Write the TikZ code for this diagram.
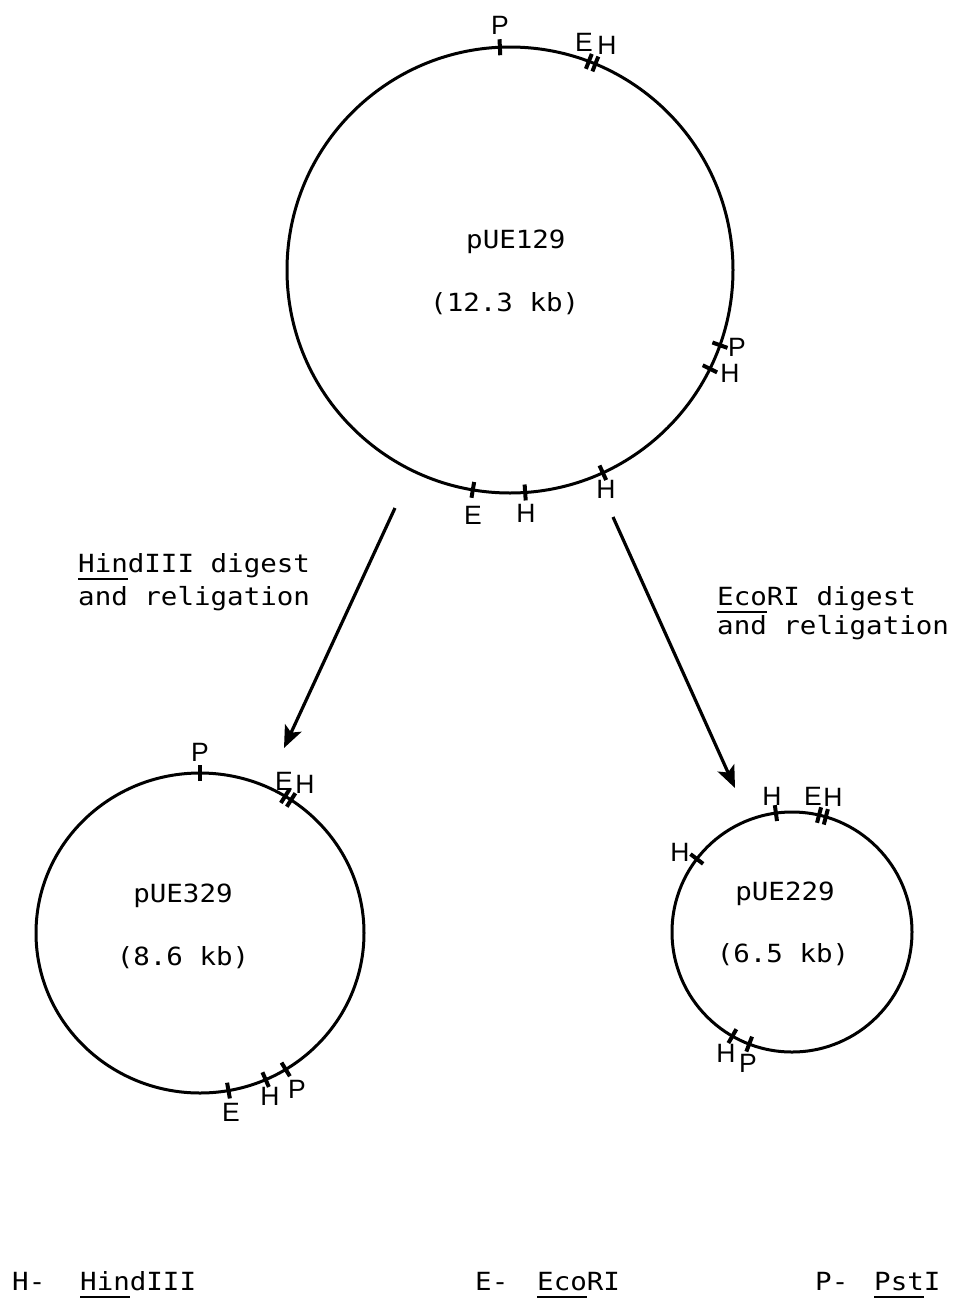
\documentclass[tikz,border=0pt]{standalone}
\usepackage{fontspec}
\usetikzlibrary{arrows.meta,shapes.geometric}
\newfontfamily\typefont[FakeStretch=1.1]{DejaVu Sans Mono}
\newfontfamily\handfont{Liberation Sans}
\newcommand\typesize{\fontsize{25}{30}\selectfont}
\newcommand\handsize{\fontsize{26.5}{30}\selectfont}
% underline for the genus part of an enzyme name
\newsavebox\ulbox
\newcommand\enzul[1]{\sbox\ulbox{#1}\rlap{\rule[-8pt]{\wd\ulbox}{2.2pt}}#1}
% single and double cut marks on a plasmid ring
% #1 centre, #2 angle, #3 x radius, #4 y radius
\newcommand\cutmark[4]{%
  \path (#1) ++(#2:#3 and #4) coordinate (cutpt);
  \draw[sitecut] (cutpt) ++(#2:-8) -- ++(#2:16);}
\newcommand\doublecut[4]{%
  \path (#1) ++(#2:#3 and #4) coordinate (cutpt);
  \draw[sitecut] ([shift={(#2+90:3.5)}]cutpt) ++(#2:-8) -- ++(#2:16);
  \draw[sitecut] ([shift={(#2-90:3.5)}]cutpt) ++(#2:-8) -- ++(#2:16);}

\begin{document}
\begin{tikzpicture}[x=1pt,y=1pt,
  plasmid/.style={draw, line width=3pt, inner sep=0pt, outer sep=0pt},
  sitecut/.style={line width=4pt},
  site/.style={font=\handfont\handsize, inner sep=0pt},
  mono/.style={font=\typefont\typesize, inner sep=0pt, anchor=base},
  monoleft/.style={mono, anchor=base west},
  digest/.style={line width=3.2pt, -{Stealth[length=22pt,width=18pt,inset=5pt]}}]
\useasboundingbox (0,0) rectangle (956,-1302);

% plasmid rings
\node[plasmid, circle, minimum size=446pt] (p129) at (510,-270) {};
\node[plasmid, ellipse, minimum width=328pt, minimum height=320pt] (p329) at (200,-933) {};
\node[plasmid, circle, minimum size=240pt] (p229) at (792,-932) {};

% names and sizes
\node[monoleft] (n129) at (466,-248) {pUE129};
\node[monoleft] (s129) at (430,-311) {(12.3 kb)};
\node[mono] (n329) at (183,-902) {pUE329};
\node[mono] (s329) at (183,-965) {(8.6 kb)};
\node[mono] (n229) at (785,-900) {pUE229};
\node[mono] (s229) at (783,-962) {(6.5 kb)};

% pUE129 sites
\cutmark{p129.center}{92.6}{223}{223}
\doublecut{p129.center}{68.4}{223}{223}
\cutmark{p129.center}{-19.7}{223}{223}
\cutmark{p129.center}{-26.3}{223}{223}
\cutmark{p129.center}{-65.4}{223}{223}
\cutmark{p129.center}{-86.1}{223}{223}
\cutmark{p129.center}{-99.6}{223}{223}
\node[site] (a-p1) at (500,-25) {P};
\node[site] (a-e1) at (584,-42) {E};
\node[site] (a-h1) at (607,-45) {H};
\node[site] (a-p2) at (737,-347) {P};
\node[site] (a-h2) at (730,-373) {H};
\node[site] (a-h3) at (606,-489) {H};
\node[site] (a-h4) at (526,-513) {H};
\node[site] (a-e2) at (473,-515) {E};

% pUE329 sites
\cutmark{p329.center}{90}{164}{160}
\doublecut{p329.center}{57.5}{164}{160}
\cutmark{p329.center}{-58.5}{164}{160}
\cutmark{p329.center}{-66.4}{164}{160}
\cutmark{p329.center}{-80}{164}{160}
\node[site] (b-p1) at (200,-752) {P};
\node[site] (b-e1) at (284,-781) {E};
\node[site] (b-h1) at (305,-784) {H};
\node[site] (b-e2) at (231,-1112) {E};
\node[site] (b-h2) at (270,-1096) {H};
\node[site] (b-p2) at (297,-1089) {P};

% pUE229 sites
\cutmark{p229.center}{97.7}{120}{120}
\doublecut{p229.center}{75.3}{120}{120}
\cutmark{p229.center}{142.5}{120}{120}
\cutmark{p229.center}{-119.8}{120}{120}
\cutmark{p229.center}{-110.9}{120}{120}
\node[site] (c-h1) at (772,-796) {H};
\node[site] (c-e1) at (813,-796) {E};
\node[site] (c-h2) at (833,-797) {H};
\node[site] (c-h3) at (680,-852) {H};
\node[site] (c-h4) at (726,-1053) {H};
\node[site] (c-p1) at (748,-1063) {P};

% digestion arrows
\coordinate (hstart) at (395,-508);
\coordinate (hend) at (284,-748);
\coordinate (estart) at (613,-517);
\coordinate (eend) at (735,-788);
\draw[digest] (hstart) -- (hend);
\draw[digest] (estart) -- (eend);

\node[monoleft] (hlab1) at (78,-572) {\enzul{Hin}dIII digest};
\node[monoleft] (hlab2) at (78,-605) {and religation};
\node[monoleft] (elab1) at (717,-605) {\enzul{Eco}RI digest};
\node[monoleft] (elab2) at (717,-634) {and religation};

% key
\node[monoleft] (kh) at (12,-1290) {H-};
\node[monoleft] (khn) at (80,-1290) {\enzul{Hin}dIII};
\node[monoleft] (ke) at (475,-1290) {E-};
\node[monoleft] (ken) at (537,-1290) {\enzul{Eco}RI};
\node[monoleft] (kp) at (815,-1290) {P-};
\node[monoleft] (kpn) at (874,-1290) {\enzul{Pst}I};
\end{tikzpicture}
\end{document}
